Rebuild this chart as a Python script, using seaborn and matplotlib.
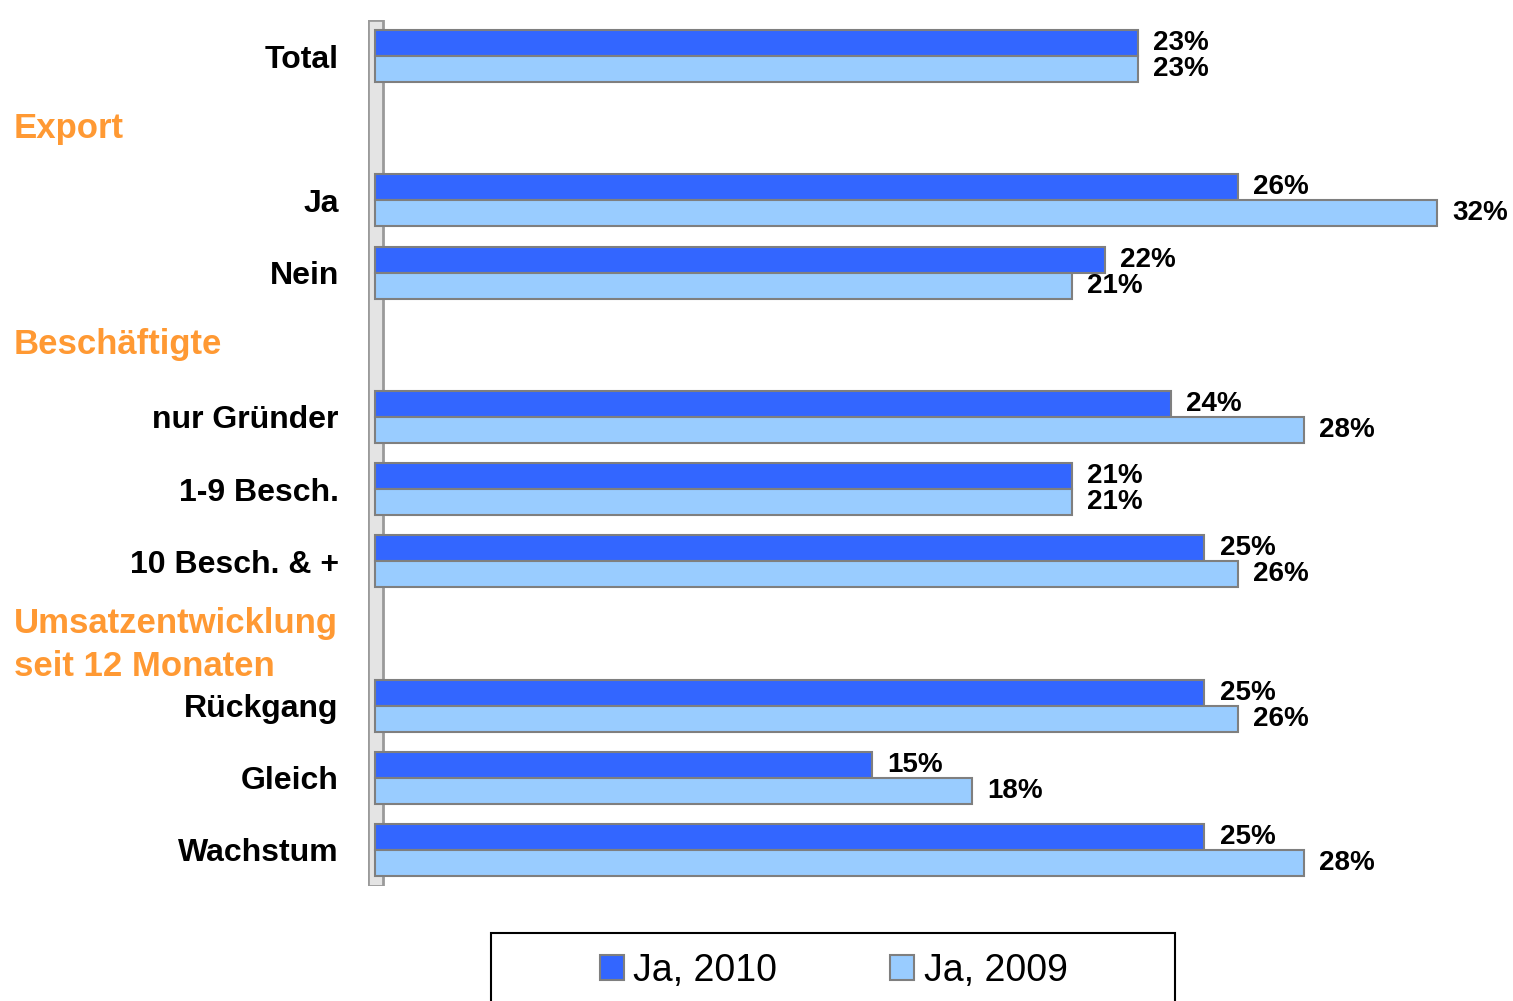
import matplotlib
matplotlib.use("Agg")
import matplotlib.pyplot as plt
import seaborn as sns
import pandas as pd

# data
categories = ["Total", "Ja", "Nein", "nur Gründer", "1-9 Besch.", "10 Besch. & +",
              "Rückgang", "Gleich", "Wachstum"]
ja_2010 = [23, 26, 22, 24, 21, 25, 25, 15, 25]
ja_2009 = [23, 32, 21, 28, 21, 26, 26, 18, 28]
series_names = ["Ja, 2010", "Ja, 2009"]
# row order incl. the group heading rows (empty slots)
row_order = ["Total", "_export", "Ja", "Nein", "_besch", "nur Gründer", "1-9 Besch.",
             "10 Besch. & +", "_umsatz", "Rückgang", "Gleich", "Wachstum"]
headings = {"_export": "Export", "_besch": "Beschäftigte",
            "_umsatz": "Umsatzentwicklung\nseit 12 Monaten"}

df = pd.DataFrame({"cat": categories, series_names[0]: ja_2010, series_names[1]: ja_2009})
df = df.melt(id_vars="cat", var_name="serie", value_name="wert")

sns.set_style("white")
plt.rcParams["font.family"] = ["Liberation Sans", "DejaVu Sans"]
plt.rcParams["text.color"] = "black"
plt.rcParams["ytick.color"] = "black"

fig = plt.figure(figsize=(15.13, 10.01), dpi=100)
ax = fig.add_axes([368 / 1513, 1 - 886 / 1001, 1 - 368 / 1513, 866 / 1001])

sns.barplot(data=df, y="cat", x="wert", hue="serie", order=row_order,
            hue_order=series_names, palette=["#3366FF", "#99CCFF"],
            orient="h", width=0.72, edgecolor="#7f7f7f", linewidth=1.5,
            saturation=1, ax=ax, legend=True)

ax.set_xlim(-0.2, 34.3)
ax.set_ylim(11.5, -0.5)
ax.set_xlabel("")
ax.set_ylabel("")
ax.set_xticks([])
ax.set_yticks(range(len(row_order)))
ax.set_yticklabels(["" if r.startswith("_") else r for r in row_order],
                   fontsize=23, fontweight="bold")
ax.tick_params(axis="y", length=0, pad=21)
for s in ax.spines.values():
    s.set_visible(False)

# grey wall on the left
ax.axvspan(-0.2, 0.25, color="#e4e4e4", ec="#9a9a9a", lw=2, zorder=0)

for cont in ax.containers:
    ax.bar_label(cont, fmt="%.0f%%", padding=11, fontsize=20, fontweight="bold")

# orange group headings
trans = matplotlib.transforms.blended_transform_factory(fig.transFigure, ax.transData)
for key, txt in headings.items():
    two = "\n" in txt
    ax.text(14 / 1513, row_order.index(key) + (0.16 if two else 0), txt,
            transform=trans, ha="left", va="center", fontsize=25, fontweight="bold",
            color="#FF9933", linespacing=1.4)

ax.legend_.remove()
h, l = ax.get_legend_handles_labels()
leg = fig.legend(h, l, loc="center", bbox_to_anchor=(0.551, 0.030), ncol=2,
                 fontsize=27, frameon=False,
                 handlelength=0.65, handleheight=0.65, handletextpad=0.25,
                 columnspacing=3.0, borderaxespad=0)
for t in leg.get_texts():
    t.set_color("black")

# legend box (cut off at the bottom like the original)
box = plt.Rectangle((491 / 1513, -0.02), (1175 - 491) / 1513, 0.02 + 68 / 1001,
                    transform=fig.transFigure, fill=False, ec="black", lw=1.5)
fig.patches.append(box)

fig.savefig("out.png", dpi=100)
